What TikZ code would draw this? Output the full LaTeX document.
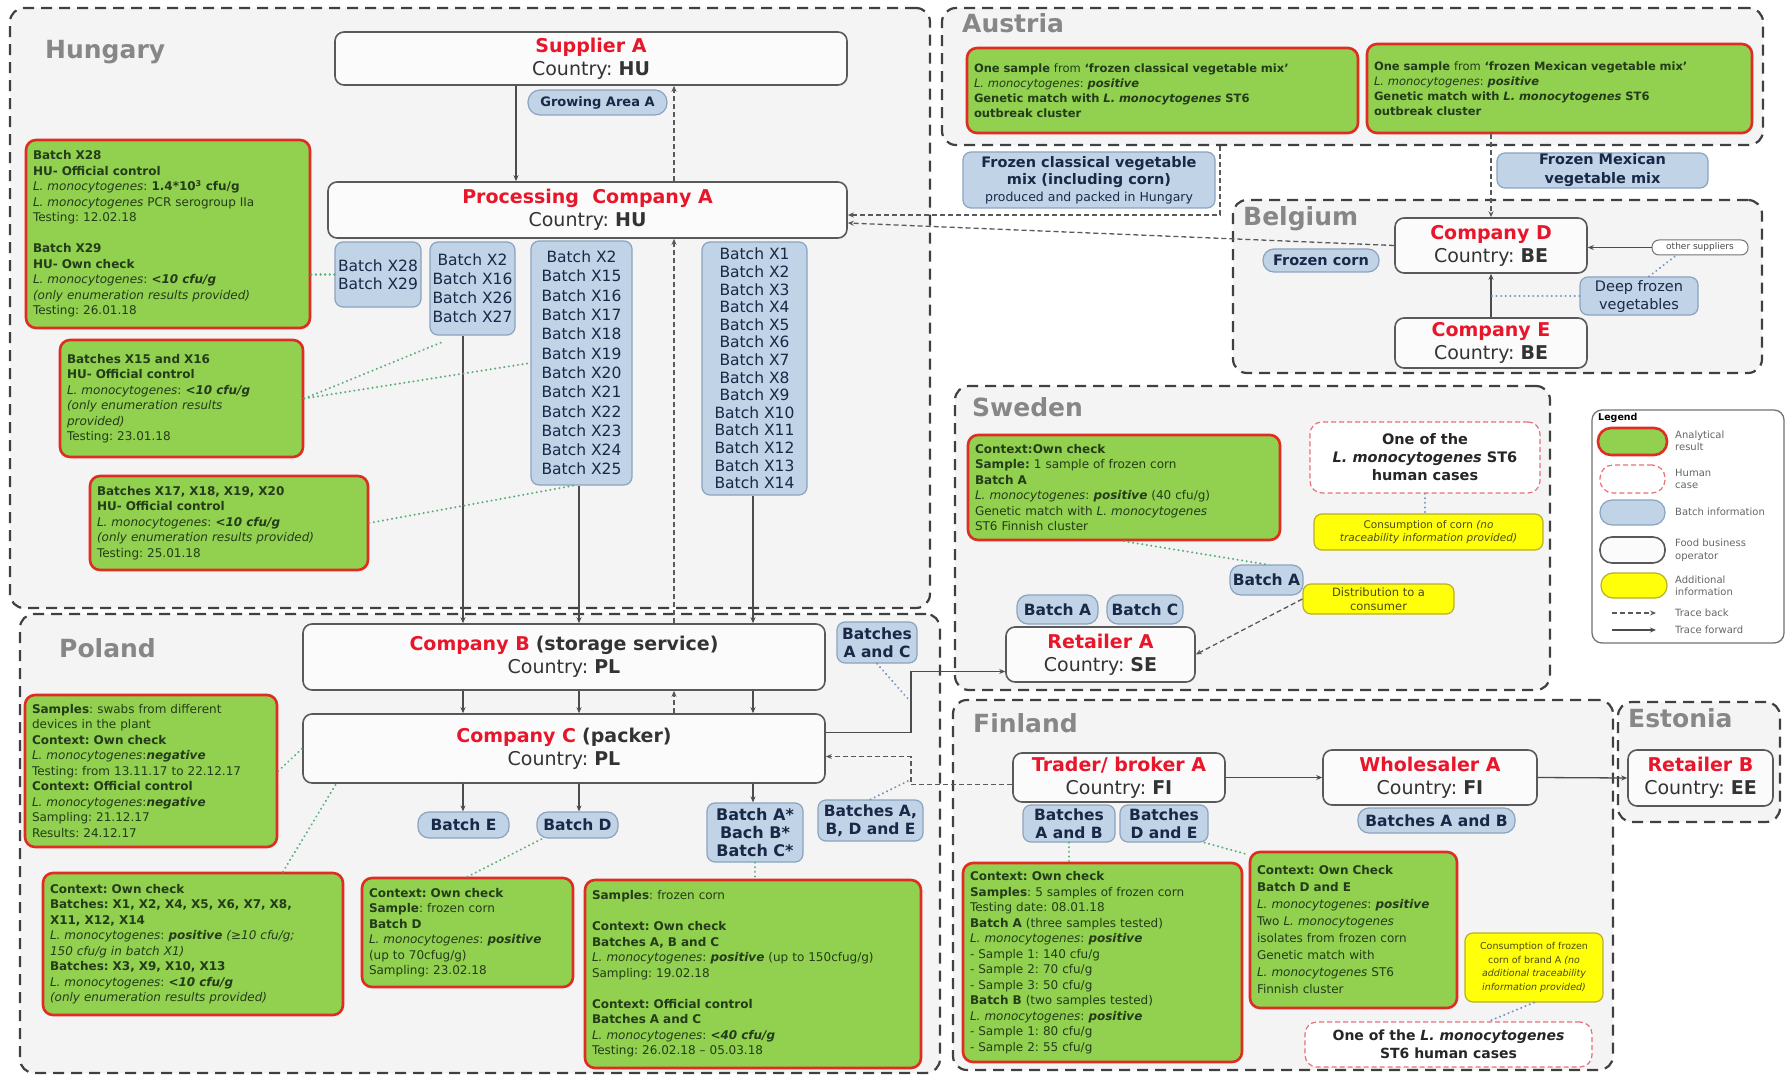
\documentclass[tikz,border=0pt]{standalone}
\usepackage{fontspec}
\setmainfont{DejaVu Sans}
\usetikzlibrary{arrows.meta,calc}
\frenchspacing
\definecolor{resgreen}{RGB}{146,208,80}
\definecolor{resred}{RGB}{222,45,35}
\definecolor{restext}{RGB}{35,60,25}
\definecolor{bfill}{RGB}{192,211,231}
\definecolor{bborder}{RGB}{140,163,190}
\definecolor{btext}{RGB}{25,40,70}
\definecolor{yfill}{RGB}{255,255,10}
\definecolor{yborder}{RGB}{185,175,40}
\definecolor{ytext}{RGB}{75,75,20}
\definecolor{hred}{RGB}{232,110,120}
\definecolor{ttlred}{RGB}{232,22,42}
\definecolor{dotgreen}{RGB}{90,175,120}
\definecolor{dotblue}{RGB}{115,145,195}
\definecolor{regfill}{RGB}{244,244,244}
\definecolor{lbltext}{RGB}{135,135,135}
\newcommand\fzG{\fontsize{12}{15.5}\selectfont}
\newcommand\fzT{\fontsize{19}{23}\selectfont}
\newcommand\fzB{\fontsize{15.5}{19}\selectfont}
\newcommand\fzR{\fontsize{25}{30}\selectfont\bfseries}
\newcommand\fzL{\fontsize{10}{12.5}\selectfont}
\newcommand\Lm{\textit{L. monocytogenes}}
\newcommand\redt[1]{{\color{ttlred}\bfseries #1}}
\newcommand\mkbox[7]{%
 \pgfmathsetmacro\mbt{#5-#3-14}\pgfmathsetmacro\mbh{#6-#4}%
 \pgfmathsetmacro\mbx{(#3+#5)/2}\pgfmathsetmacro\mby{(#4+#6)/2}%
 \node[#2, inner xsep=7pt, inner ysep=0pt, text width=\mbt pt, minimum height=\mbh pt] (#1) at (\mbx,\mby) {#7};}
\newcommand\mkcbox[7]{%
 \pgfmathsetmacro\mbw{#5-#3}\pgfmathsetmacro\mbh{#6-#4}%
 \pgfmathsetmacro\mbx{(#3+#5)/2}\pgfmathsetmacro\mby{(#4+#6)/2}%
 \node[#2, inner sep=0pt, minimum width=\mbw pt, minimum height=\mbh pt] (#1) at (\mbx,\mby) {#7};}
\tikzset{
 region/.style={draw=black!75, line width=2.2pt, dash pattern=on 11pt off 7pt, rounded corners=14pt, fill=regfill},
 legendbox/.style={draw=black!55, line width=1.3pt, rounded corners=10pt, fill=white},
 rlabel/.style={font=\fzR, text=lbltext, anchor=base west, inner sep=0pt},
 fbo/.style={draw=black!65, line width=1.6pt, rounded corners=9pt, fill=gray!3, align=center, font=\fzT, text=black!80},
 anres/.style={draw=resred, line width=2.6pt, rounded corners=10pt, fill=resgreen, align=left, font=\fzG, text=restext},
 binfo/.style={draw=bborder, line width=1.2pt, rounded corners=8pt, fill=bfill, align=center, text=btext, font=\fzB},
 bbold/.style={binfo, font=\fzB\bfseries},
 addinfo/.style={draw=yborder, line width=1.2pt, rounded corners=8pt, fill=yfill, align=center, text=ytext},
 hcase/.style={draw=hred, line width=1.2pt, dash pattern=on 5pt off 3pt, rounded corners=12pt, fill=white, align=center, font=\fontsize{14.5}{18}\selectfont\bfseries, text=black!85},
 osup/.style={draw=black!55, line width=1pt, rounded corners=7pt, fill=white, font=\fontsize{9}{10}\selectfont, text=black!70},
 legtext/.style={anchor=west, inner sep=0pt, font=\fzL, text=black!60, align=left},
 tfwd/.style={draw=black!70, line width=1.3pt, -{Stealth[length=6pt,width=5pt]}},
 tback/.style={draw=black!65, line width=1.3pt, dash pattern=on 5pt off 3pt, -{Stealth[length=6pt,width=5pt]}},
 dotg/.style={draw=dotgreen, line width=2.2pt, dash pattern=on 0.1pt off 4.5pt, line cap=round},
 dotb/.style={draw=dotblue, line width=2.2pt, dash pattern=on 0.1pt off 4.5pt, line cap=round},
}
\begin{document}
\begin{tikzpicture}[x=1pt,y=-1pt]
\useasboundingbox (0,0) rectangle (1792,1078);
\fill[white] (0,0) rectangle (1792,1078);
% regions
\mkcbox{rHU}{region}{10}{8}{930}{608}{}
\mkcbox{rPL}{region}{20}{614}{940}{1073}{}
\mkcbox{rAT}{region}{942}{8}{1763}{145}{}
\mkcbox{rBE}{region}{1233}{200}{1762}{373}{}
\mkcbox{rSE}{region}{955}{386}{1550}{690}{}
\mkcbox{rFI}{region}{953}{700}{1613}{1070}{}
\mkcbox{rEE}{region}{1618}{702}{1780}{822}{}
\mkcbox{rLG}{legendbox}{1592}{410}{1784}{643}{}
\node[rlabel] (lHU) at (45,59) {Hungary};
\node[rlabel] (lAT) at (962,33) {Austria};
\node[rlabel] (lBE) at (1243,226) {Belgium};
\node[rlabel] (lPL) at (59,657) {Poland};
\node[rlabel] (lSE) at (972,416) {Sweden};
\node[rlabel] (lFI) at (973,732) {Finland};
\node[rlabel] (lEE) at (1628,727) {Estonia};
% food business operators
\mkcbox{sup}{fbo}{335}{32}{847}{85}{\redt{Supplier A}\\Country: \textbf{HU}}
\mkcbox{pca}{fbo}{328}{182}{847}{238}{\redt{Processing~ Company A}\\Country: \textbf{HU}}
\mkcbox{cb}{fbo}{303}{624}{825}{690}{\redt{Company B} \textbf{(storage service)}\\Country: \textbf{PL}}
\mkcbox{cc}{fbo}{303}{714}{825}{783}{\redt{Company C} \textbf{(packer)}\\Country: \textbf{PL}}
\mkcbox{cd}{fbo}{1395}{218}{1587}{273}{\redt{Company D}\\Country: \textbf{BE}}
\mkcbox{ce}{fbo}{1395}{318}{1587}{368}{\redt{Company E}\\Country: \textbf{BE}}
\mkcbox{ra}{fbo}{1006}{627}{1195}{682}{\redt{Retailer A}\\Country: \textbf{SE}}
\mkcbox{tr}{fbo}{1013}{753}{1225}{802}{\redt{Trader/ broker A}\\Country: \textbf{FI}}
\mkcbox{wh}{fbo}{1323}{750}{1537}{805}{\redt{Wholesaler A}\\Country: \textbf{FI}}
\mkcbox{rb}{fbo}{1628}{750}{1773}{806}{\redt{Retailer B}\\Country: \textbf{EE}}
% batch information
\mkcbox{ga}{bbold, rounded corners=12pt, font=\fontsize{13}{15}\selectfont\bfseries}{528}{90}{667}{115}{Growing Area A}
\mkcbox{b1}{binfo, font=\fontsize{15.5}{18}\selectfont}{335}{242}{421}{307}{Batch X28\\Batch X29}
\mkcbox{b2}{binfo, font=\fontsize{15.5}{19}\selectfont}{430}{242}{515}{335}{Batch X2\\Batch X16\\Batch X26\\Batch X27}
\mkcbox{b3}{binfo, font=\fontsize{15.5}{19.3}\selectfont}{531}{241}{632}{485}{Batch X2\\Batch X15\\Batch X16\\Batch X17\\Batch X18\\Batch X19\\Batch X20\\Batch X21\\Batch X22\\Batch X23\\Batch X24\\Batch X25}
\mkcbox{b4}{binfo, font=\fontsize{15.5}{17.6}\selectfont}{702}{242}{807}{495}{Batch X1\\Batch X2\\Batch X3\\Batch X4\\Batch X5\\Batch X6\\Batch X7\\Batch X8\\Batch X9\\Batch X10\\Batch X11\\Batch X12\\Batch X13\\Batch X14}
\mkcbox{fcl}{binfo, font=\fontsize{14.5}{17}\selectfont}{963}{152}{1215}{208}{\bfseries Frozen classical vegetable\\\bfseries mix (including corn)\\\mdseries\fontsize{12.5}{14}\selectfont produced and packed in Hungary}
\mkcbox{fmx}{bbold, font=\fontsize{14.5}{19}\selectfont\bfseries}{1497}{153}{1708}{188}{Frozen Mexican\\vegetable mix}
\mkcbox{fc}{bbold, rounded corners=11pt, font=\fontsize{14.5}{17}\selectfont\bfseries}{1263}{249}{1379}{272}{Frozen corn}
\mkcbox{df}{binfo, font=\fontsize{14.5}{18}\selectfont}{1580}{277}{1698}{315}{Deep frozen\\vegetables}
\mkcbox{os}{osup}{1652}{240}{1748}{255}{other suppliers}
\mkcbox{pAC}{bbold, font=\fontsize{15.5}{18}\selectfont\bfseries}{837}{622}{917}{663}{Batches\\A and C}
\mkcbox{bE}{bbold, rounded corners=11pt}{418}{812}{509}{838}{Batch E}
\mkcbox{bD}{bbold, rounded corners=11pt}{537}{812}{618}{838}{Batch D}
\mkcbox{bS}{bbold, font=\fontsize{16}{18}\selectfont\bfseries}{707}{803}{803}{862}{Batch A*\\Bach B*\\Batch C*}
\mkcbox{pABDE}{bbold, font=\fontsize{15.5}{18}\selectfont\bfseries}{818}{800}{923}{841}{Batches A,\\B, D and E}
\mkcbox{sbA}{bbold, rounded corners=11pt}{1230}{565}{1303}{595}{Batch A}
\mkcbox{sbA2}{bbold, rounded corners=11pt}{1017}{595}{1098}{624}{Batch A}
\mkcbox{sbC}{bbold, rounded corners=11pt}{1107}{595}{1183}{624}{Batch C}
\mkcbox{fAB}{bbold, font=\fontsize{15.5}{18}\selectfont\bfseries}{1023}{805}{1115}{842}{Batches\\A and B}
\mkcbox{fDE}{bbold, font=\fontsize{15.5}{18}\selectfont\bfseries}{1120}{805}{1208}{842}{Batches\\D and E}
\mkcbox{wAB}{bbold, rounded corners=11pt}{1358}{808}{1515}{833}{Batches A and B}
% analytical results
\mkbox{g1}{anres}{26}{140}{310}{328}{\textbf{Batch X28}\\
\textbf{HU- Official control}\\
\Lm: \textbf{1.4*10\textsuperscript{3} cfu/g}\\
\Lm\ PCR serogroup IIa\\
Testing: 12.02.18\\[15.5pt]
\textbf{Batch X29}\\
\textbf{HU- Own check}\\
\Lm: \textbf{\textit{<10 cfu/g}}\\
\textit{(only enumeration results provided)}\\
Testing: 26.01.18}
\mkbox{g2}{anres}{60}{340}{303}{457}{\textbf{Batches X15 and X16}\\
\textbf{HU- Official control}\\
\Lm: \textbf{\textit{<10 cfu/g}}\\
\textit{(only enumeration results}\\
\textit{provided)}\\
Testing: 23.01.18}
\mkbox{g3}{anres}{90}{476}{368}{570}{\textbf{Batches X17, X18, X19, X20}\\
\textbf{HU- Official control}\\
\Lm: \textbf{\textit{<10 cfu/g}}\\
\textit{(only enumeration results provided)}\\
Testing: 25.01.18}
\mkbox{a1}{anres, font=\fontsize{11.5}{15}\selectfont}{967}{48}{1358}{133}{\textbf{One sample} from \textbf{`frozen classical vegetable mix'}\\
\Lm: \textbf{\textit{positive}}\\
\textbf{Genetic match with \textit{L. monocytogenes} ST6}\\
\textbf{outbreak cluster}}
\mkbox{a2}{anres, font=\fontsize{11.5}{15}\selectfont}{1367}{44}{1752}{133}{\textbf{One sample} from \textbf{`frozen Mexican vegetable mix'}\\
\Lm: \textbf{\textit{positive}}\\
\textbf{Genetic match with \textit{L. monocytogenes} ST6}\\
\textbf{outbreak cluster}}
\mkbox{p1}{anres}{25}{695}{277}{847}{\textbf{Samples}: swabs from different\\
devices in the plant\\
\textbf{Context: Own check}\\
\Lm:\textbf{\textit{negative}}\\
Testing: from 13.11.17 to 22.12.17\\
\textbf{Context: Official control}\\
\Lm:\textbf{\textit{negative}}\\
Sampling: 21.12.17\\
Results: 24.12.17}
\mkbox{p2}{anres}{43}{873}{343}{1015}{\textbf{Context: Own check}\\
\textbf{Batches: X1, X2, X4, X5, X6, X7, X8,}\\
\textbf{X11, X12, X14}\\
\Lm: \textbf{\textit{positive}} \textit{(≥10 cfu/g;}\\
\textit{150 cfu/g in batch X1)}\\
\textbf{Batches: X3, X9, X10, X13}\\
\Lm: \textbf{\textit{<10 cfu/g}}\\
\textit{(only enumeration results provided)}}
\mkbox{p3}{anres}{362}{878}{573}{987}{\textbf{Context: Own check}\\
\textbf{Sample}: frozen corn\\
\textbf{Batch D}\\
\Lm: \textbf{\textit{positive}}\\
(up to 70cfug/g)\\
Sampling: 23.02.18}
\mkbox{p4}{anres}{585}{880}{921}{1068}{\textbf{Samples}: frozen corn\\[15.5pt]
\textbf{Context: Own check}\\
\textbf{Batches A, B and C}\\
\Lm: \textbf{\textit{positive}} (up to 150cfug/g)\\
Sampling: 19.02.18\\[15.5pt]
\textbf{Context: Official control}\\
\textbf{Batches A and C}\\
\Lm: \textbf{\textit{<40 cfu/g}}\\
Testing: 26.02.18 – 05.03.18}
\mkbox{s1}{anres}{968}{435}{1280}{540}{\textbf{Context:Own check}\\
\textbf{Sample:} 1 sample of frozen corn\\
\textbf{Batch A}\\
\Lm: \textbf{\textit{positive}} (40 cfu/g)\\
Genetic match with \Lm\\
ST6 Finnish cluster}
\mkbox{f1}{anres}{963}{863}{1242}{1062}{\textbf{Context: Own check}\\
\textbf{Samples}: 5 samples of frozen corn\\
Testing date: 08.01.18\\
\textbf{Batch A} (three samples tested)\\
\Lm: \textbf{\textit{positive}}\\
- Sample 1: 140 cfu/g\\
- Sample 2: 70 cfu/g\\
- Sample 3: 50 cfu/g\\
\textbf{Batch B} (two samples tested)\\
\Lm: \textbf{\textit{positive}}\\
- Sample 1: 80 cfu/g\\
- Sample 2: 55 cfu/g}
\mkbox{f2}{anres, font=\fontsize{12}{17}\selectfont}{1250}{852}{1457}{1008}{\textbf{Context: Own Check}\\
\textbf{Batch D and E}\\
\Lm: \textbf{\textit{positive}}\\
Two \Lm\\
isolates from frozen corn\\
Genetic match with\\
\Lm\ ST6\\
Finnish cluster}
% additional information and human cases
\mkcbox{yse}{addinfo, font=\fontsize{10.5}{13}\selectfont}{1314}{514}{1543}{550}{Consumption of corn \textit{(no}\\\textit{traceability information provided)}}
\mkcbox{yd}{addinfo, font=\fontsize{11.5}{13.5}\selectfont}{1303}{584}{1454}{614}{Distribution to a\\consumer}
\mkcbox{yf}{addinfo, font=\fontsize{9.5}{13.5}\selectfont}{1465}{933}{1603}{1002}{Consumption of frozen\\corn of brand A \textit{(no}\\\textit{additional traceability}\\\textit{information provided)}}
\mkcbox{hse}{hcase}{1310}{422}{1540}{493}{One of the\\\textit{L. monocytogenes} ST6\\human cases}
\mkcbox{hfi}{hcase, font=\fontsize{14}{18}\selectfont\bfseries}{1305}{1022}{1592}{1067}{One of the \textit{L. monocytogenes}\\ST6 human cases}
% legend
\node[legtext, font=\fontsize{9.5}{11}\selectfont\bfseries, text=black] (lgT) at (1598,418) {Legend};
\mkcbox{lg1}{anres, rounded corners=13pt}{1598}{428}{1667}{455}{}
\mkcbox{lg2}{hcase, rounded corners=13pt}{1600}{465}{1665}{493}{}
\mkcbox{lg3}{binfo, rounded corners=12pt}{1600}{500}{1665}{525}{}
\mkcbox{lg4}{fbo, rounded corners=12pt}{1600}{537}{1665}{563}{}
\mkcbox{lg5}{addinfo, rounded corners=12pt}{1601}{573}{1667}{598}{}
\node[legtext] (lt1) at (1675,441) {Analytical\\result};
\node[legtext] (lt2) at (1675,479) {Human\\case};
\node[legtext] (lt3) at (1675,512) {Batch information};
\node[legtext] (lt4) at (1675,550) {Food business\\operator};
\node[legtext] (lt5) at (1675,586) {Additional\\information};
\node[legtext] (lt6) at (1675,613) {Trace back};
\node[legtext] (lt7) at (1675,630) {Trace forward};
\coordinate (lb1) at (1612,613); \coordinate (lb2) at (1656,613);
\coordinate (lf1) at (1612,630); \coordinate (lf2) at (1656,630);
\draw[tback] (lb1) -- (lb2);
\draw[tfwd] (lf1) -- (lf2);
% helper x positions
\coordinate (X463) at (463,0);
\coordinate (X516) at (516,0);
\coordinate (X579) at (579,0);
\coordinate (X674) at (674,0);
\coordinate (X752) at (753,0);
\coordinate (X911) at (911,0);
\coordinate (X1220) at (1220,0);
% Hungary / Poland flows
\draw[tfwd] (sup.south -| X516) -- (pca.north -| X516);
\draw[tback] (pca.north -| X674) -- (sup.south -| X674);
\draw[tfwd] (b2.south -| X463) -- (cb.north -| X463);
\draw[tfwd] (b3.south -| X579) -- (cb.north -| X579);
\draw[tfwd] (b4.south -| X752) -- (cb.north -| X752);
\draw[tback] (cb.north -| X674) -- (pca.south -| X674);
\draw[tfwd] (cb.south -| X463) -- (cc.north -| X463);
\draw[tfwd] (cb.south -| X579) -- (cc.north -| X579);
\draw[tfwd] (cb.south -| X752) -- (cc.north -| X752);
\draw[tback] (cc.north -| X674) -- (cb.south -| X674);
\draw[tfwd] (cc.south -| X463) -- (bE.north -| X463);
\draw[tfwd] (cc.south -| X579) -- (bD.north -| X579);
\draw[tfwd] (cc.south -| X752) -- (bS.north -| X752);
\coordinate (Cout) at ([yshift=16pt]cc.east);
\coordinate (Rin) at ([yshift=-17pt]ra.west);
\draw[tfwd] (Cout) -- (Cout -| X911) -- (X911 |- Rin) -- (Rin);
\coordinate (Tout) at ([yshift=-7pt]tr.west);
\coordinate (Cin) at ([yshift=-8pt]cc.east);
\draw[tback] (Tout) -- (Tout -| X911) -- (X911 |- Cin) -- (Cin);
% Sweden / Finland / Estonia flows
\draw[tback] (yd.west) -- (ra.east);
\draw[tfwd] (tr.east) -- (wh.west);
\draw[tfwd] (wh.east) -- (rb.west);
% Belgium / Austria flows
\draw[tback] (cd.west) -- ([yshift=-13pt]pca.east);
\draw[tback] (rAT.south -| X1220) |- ([yshift=-5pt]pca.east);
\draw[tback] (a2.south -| cd.north) -- (cd.north);
\draw[tfwd] (os.west) -- (os.west -| cd.east);
\draw[tfwd] (ce.north) -- (cd.south);
% dotted links
\draw[dotg] (g1.east |- b1.west) -- (b1.west);
\draw[dotg] (g2.east) -- ([xshift=14pt,yshift=-6pt]b2.south west);
\draw[dotg] (g2.east) -- (b3.west);
\draw[dotg] (g3.east) -- ([xshift=-8pt]b3.south);
\draw[dotg] (p1.east) -- (cc.west);
\draw[dotg] ([xshift=90pt]p2.north) -- ([xshift=34pt]cc.south west);
\draw[dotg] (p3.north) -- ([xshift=6pt]bD.south west);
\draw[dotg] (bS.south) -- (bS.south |- p4.north);
\draw[dotg] (s1.south) -- (sbA.north);
\draw[dotg] (fAB.south) -- (fAB.south |- f1.north);
\draw[dotg] ([xshift=-4pt]fDE.south east) -- ([xshift=-4pt,yshift=-3pt]f2.north west);
\draw[dotb] (hse.south) -- (hse.south |- yse.north);
\draw[dotb] (yf.south) -- ([xshift=40pt]hfi.north);
\draw[dotb] (df.west) -- (df.west -| ce.north);
\draw[dotb] ([xshift=10pt]df.north) -- ([xshift=-24pt]os.south);
\coordinate (cAC) at (909,700);
\draw[dotb] (pAC.south) -- (cAC);
\coordinate (cABDE) at (908,781);
\draw[dotb] (pABDE.north) -- (cABDE);
\end{tikzpicture}
\end{document}
